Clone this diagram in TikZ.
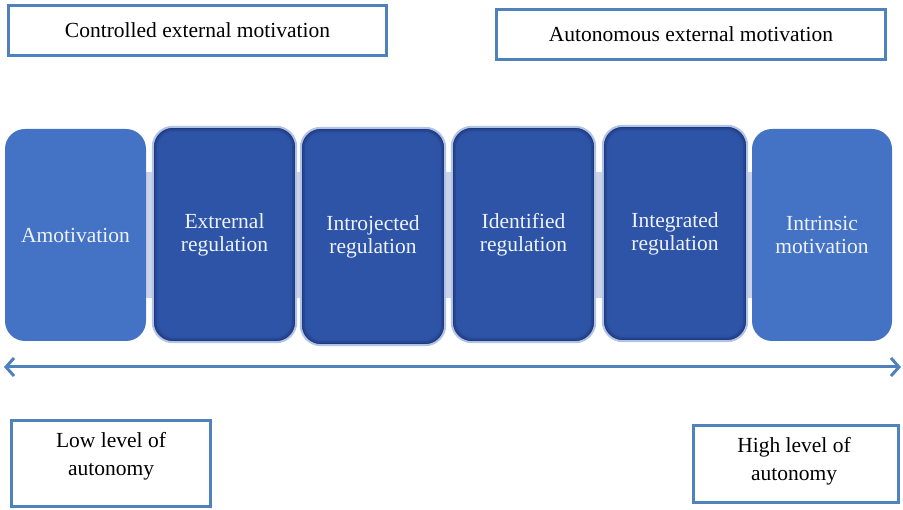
\documentclass[tikz,border=0pt]{standalone}
\usepackage{fontspec}
\setmainfont{Liberation Serif}
\usetikzlibrary{arrows.meta,calc,backgrounds}
\definecolor{frameblue}{RGB}{79,129,189}
\definecolor{lightfill}{RGB}{68,114,196}
\definecolor{darkfill}{RGB}{45,84,167}
\definecolor{edgeA}{RGB}{30,56,125}
\definecolor{edgeB}{RGB}{38,70,148}
\definecolor{rim}{RGB}{178,196,229}
\definecolor{bandcol}{RGB}{204,211,233}
\definecolor{textcol}{RGB}{238,242,250}
\begin{document}
\begin{tikzpicture}[x=1pt,y=-1pt,
  labelbox/.style={draw=frameblue, line width=3pt, fill=white, align=center,
    inner sep=0pt, font=\fontsize{21.5}{28}\selectfont},
  labeltext/.style={align=center, inner sep=0pt, font=\fontsize{21.5}{28}\selectfont},
  stage/.style={rounded corners=20pt, align=center, inner sep=0pt, text=textcol,
    font=\fontsize{21.5}{23}\selectfont},
  lightstage/.style={stage, fill=lightfill},
  darkstage/.style={stage}
]
\useasboundingbox (0,0) rectangle (903,510);

% motivation categories at the top
\node[labelbox, minimum width=378pt, minimum height=50pt] (ctrl) at (197.5,30.5) {Controlled external motivation};
\node[labelbox, minimum width=389pt, minimum height=50pt] (auto) at (691,34.5) {Autonomous external motivation};

% the six stages of the continuum
\node[lightstage, minimum width=141pt, minimum height=212pt] (amot) at (75.5,235) {Amotivation};
\node[darkstage, minimum width=143pt, minimum height=215pt] (ext) at (224.5,234.5) {Extrernal\\regulation};
\node[darkstage, minimum width=144pt, minimum height=217pt] (intro) at (373,236.5) {Introjected\\regulation};
\node[darkstage, minimum width=143pt, minimum height=215pt] (ident) at (523.5,234.5) {Identified\\regulation};
\node[darkstage, minimum width=144pt, minimum height=215pt] (integ) at (675,233.5) {Integrated\\regulation};
\node[lightstage, minimum width=140pt, minimum height=212pt] (intr) at (822,235) {Intrinsic\\motivation};

\begin{scope}[on background layer]
  % connecting band behind the stages
  \fill[bandcol] ($(amot.center)+(0,-63)$) rectangle ($(intr.center)+(0,63)$);
  % regulation stages: dark fill with inner shadow and light rim
  \foreach \n in {ext,intro,ident,integ}{
    \fill[edgeA, rounded corners=20pt] (\n.south west) rectangle (\n.north east);
    \fill[edgeB, rounded corners=18.5pt] ($(\n.south west)+(2,-2)$) rectangle ($(\n.north east)+(-2,2)$);
    \fill[darkfill!85!edgeB, rounded corners=17pt] ($(\n.south west)+(4,-4)$) rectangle ($(\n.north east)+(-4,4)$);
    \fill[darkfill, rounded corners=15pt] ($(\n.south west)+(6,-6)$) rectangle ($(\n.north east)+(-6,6)$);
    \draw[rim, line width=2pt, rounded corners=20pt] (\n.south west) rectangle (\n.north east);
  }
\end{scope}

% autonomy axis
\coordinate (axisL) at (4,367);
\coordinate (axisR) at (901,367);
\draw[frameblue, line width=3pt, {Straight Barb[length=8pt,width=18pt]}-{Straight Barb[length=8pt,width=18pt]}] (axisL) -- (axisR);

% ends of the axis
\node[labelbox, minimum width=199pt, minimum height=86pt] (low) at (111,463.5) {};
\node[labeltext] (lowtext) at (111,456) {Low level of\\autonomy};
\node[labelbox, minimum width=205pt, minimum height=77pt] (high) at (796,464) {};
\node[labeltext] (hightext) at (794,461) {High level of\\autonomy};
\end{tikzpicture}
\end{document}
